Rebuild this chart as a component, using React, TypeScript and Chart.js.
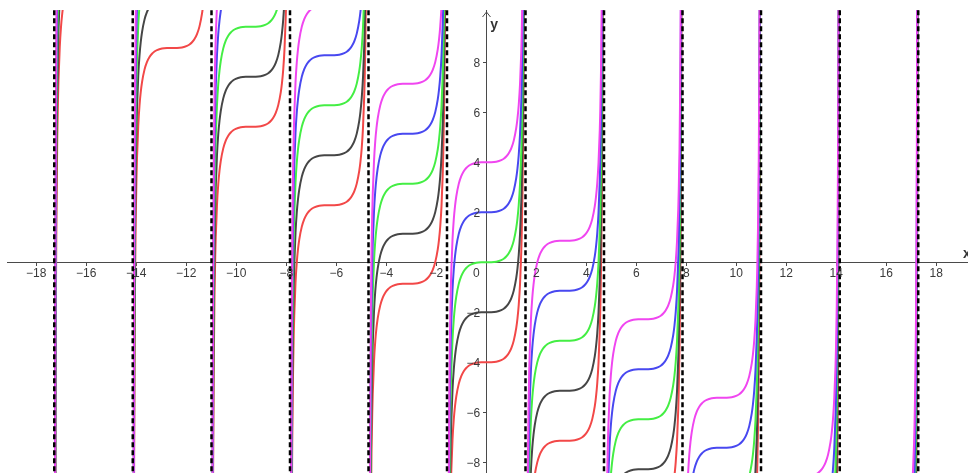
import { useEffect, useRef } from 'react';
import { Chart, registerables } from 'chart.js';

Chart.register(...registerables);

// Family y = tan x − x + c, drawn branch by branch between the vertical asymptotes.
// Centre of each branch (x = kπ) and the flat step of the c = 0 curve there.
const branchCenters = [-15.71, -12.57, -9.42, -6.28, -3.14, 0, 3.14, 6.28, 9.42, 12.57, 15.71];
const stepLevels = [15.71, 12.57, 9.42, 6.28, 3.14, 0, -3.14, -6.28, -9.42, -12.57, -15.71];

// Vertical asymptotes x = π/2 + kπ
const asymptotes = [-17.28, -14.14, -10.99, -7.85, -4.71, -1.57, 1.57, 4.71, 7.85, 10.99, 14.14, 17.28];

// Constant of each member of the family
const constants = [-4, -2, 0, 2, 4];
const curveColors = ['#f24848', '#464646', '#44ee44', '#4848f0', '#f046f0'];

// One branch, right half: distance from the centre and rise above the step
// (the left half is the same shape mirrored through the centre)
const branchU = [0, 0.2, 0.4, 0.6, 0.7, 0.8, 0.9, 1.0, 1.1, 1.2, 1.25, 1.3, 1.35, 1.4, 1.42, 1.45, 1.48, 1.5, 1.52, 1.53, 1.54, 1.55, 1.56];
const branchRise = [0, 0.003, 0.023, 0.084, 0.142, 0.23, 0.36, 0.557, 0.865, 1.372, 1.76, 2.302, 3.105, 4.398, 5.161, 6.788, 9.5, 12.6, 18.15, 22.97, 30.92, 46.53, 91.06];

// Axis ticks
const xTicks = [-18, -16, -14, -12, -10, -8, -6, -4, -2, 2, 4, 6, 8, 10, 12, 14, 16, 18];
const yTicks = [-8, -6, -4, -2, 2, 4, 6, 8];

// Visible window
const X_MIN = -19.17;
const X_MAX = 19.27;
const Y_MIN = -8.43;
const Y_MAX = 10.09;

const AXIS_COLOR = '#4a4a4a';
const LABEL_COLOR = '#3a3a3a';
const FONT = '"Liberation Sans", Arial, sans-serif';

const fmt = (v: number) => (v < 0 ? '\u2212' + Math.abs(v) : String(v));

// Tick labels beside the axes, the origin label, axis names and the y-axis arrow
const axisDecor = {
  id: 'axisDecor',
  afterDraw(chart: any) {
    const { ctx, scales, chartArea } = chart;
    const ox = scales.x.getPixelForValue(0);
    const oy = scales.y.getPixelForValue(0);
    ctx.save();
    ctx.fillStyle = LABEL_COLOR;
    ctx.font = `12px ${FONT}`;
    ctx.textBaseline = 'middle';

    ctx.textAlign = 'center';
    xTicks.forEach((v) => {
      ctx.fillText(fmt(v), scales.x.getPixelForValue(v), oy + 11);
    });
    ctx.textAlign = 'right';
    yTicks.forEach((v) => {
      ctx.fillText(fmt(v), ox - 6, scales.y.getPixelForValue(v) + 1);
    });
    ctx.textAlign = 'center';
    ctx.fillText('0', ox - 10, oy + 11);

    ctx.font = `bold 14px ${FONT}`;
    ctx.fillStyle = '#333';
    ctx.textAlign = 'left';
    ctx.textBaseline = 'alphabetic';
    ctx.fillText('y', ox + 4, chartArea.top + 19);
    ctx.fillText('x', chartArea.right - 5, oy - 4);

    ctx.strokeStyle = AXIS_COLOR;
    ctx.lineWidth = 1;
    const ax = Math.round(ox) + 0.5;
    const ay = chartArea.top + 2;
    ctx.beginPath();
    ctx.moveTo(ax - 4, ay + 5);
    ctx.lineTo(ax, ay);
    ctx.lineTo(ax + 4, ay + 5);
    ctx.stroke();
    ctx.restore();
  },
};

export default function App() {
  const canvasRef = useRef<HTMLCanvasElement>(null);

  useEffect(() => {
    document.body.style.margin = '0';
    const datasets: any[] = [];

    asymptotes.forEach((a) => {
      datasets.push({
        data: [
          { x: a, y: -9 },
          { x: a, y: 11 },
        ],
        borderColor: '#000',
        borderWidth: 2.5,
        borderDash: [5, 3],
        order: 0,
      });
    });

    constants.forEach((c, ci) => {
      branchCenters.forEach((cx, bi) => {
        const pts: { x: number; y: number }[] = [];
        for (let i = branchU.length - 1; i > 0; i--) {
          pts.push({ x: cx - branchU[i], y: stepLevels[bi] + c - branchRise[i] });
        }
        for (let i = 0; i < branchU.length; i++) {
          pts.push({ x: cx + branchU[i], y: stepLevels[bi] + c + branchRise[i] });
        }
        datasets.push({
          data: pts,
          borderColor: curveColors[ci],
          borderWidth: 2,
          cubicInterpolationMode: 'monotone',
          // later members of the family are painted over earlier ones
          order: constants.length - ci,
        });
      });
    });

    const tickAxis = (ticks: number[]) => ({
      afterBuildTicks: (s: any) => {
        s.ticks = ticks.map((v) => ({ value: v }));
      },
      grid: { drawOnChartArea: false, tickLength: 3, color: AXIS_COLOR },
      border: { color: AXIS_COLOR, width: 1 },
      ticks: { display: false, autoSkip: false },
    });

    const chart = new Chart(canvasRef.current!, {
      type: 'scatter',
      data: { datasets },
      plugins: [axisDecor],
      options: {
        animation: false,
        responsive: false,
        showLine: true,
        clip: 0,
        layout: { padding: { left: 7, top: 10, right: 0, bottom: 0 } },
        elements: { point: { radius: 0, hoverRadius: 0 }, line: { fill: false } },
        plugins: { legend: { display: false }, tooltip: { enabled: false } },
        scales: {
          x: { type: 'linear', min: X_MIN, max: X_MAX, position: { y: 0 }, ...tickAxis(xTicks) },
          y: { type: 'linear', min: Y_MIN, max: Y_MAX, position: { x: 0 }, ...tickAxis(yTicks) },
        },
      } as any,
    });

    return () => chart.destroy();
  }, []);

  return (
    <div style={{ position: 'fixed', left: 0, top: 0, width: 968, height: 473, background: '#fff' }}>
      <canvas ref={canvasRef} width={968} height={473} />
    </div>
  );
}
